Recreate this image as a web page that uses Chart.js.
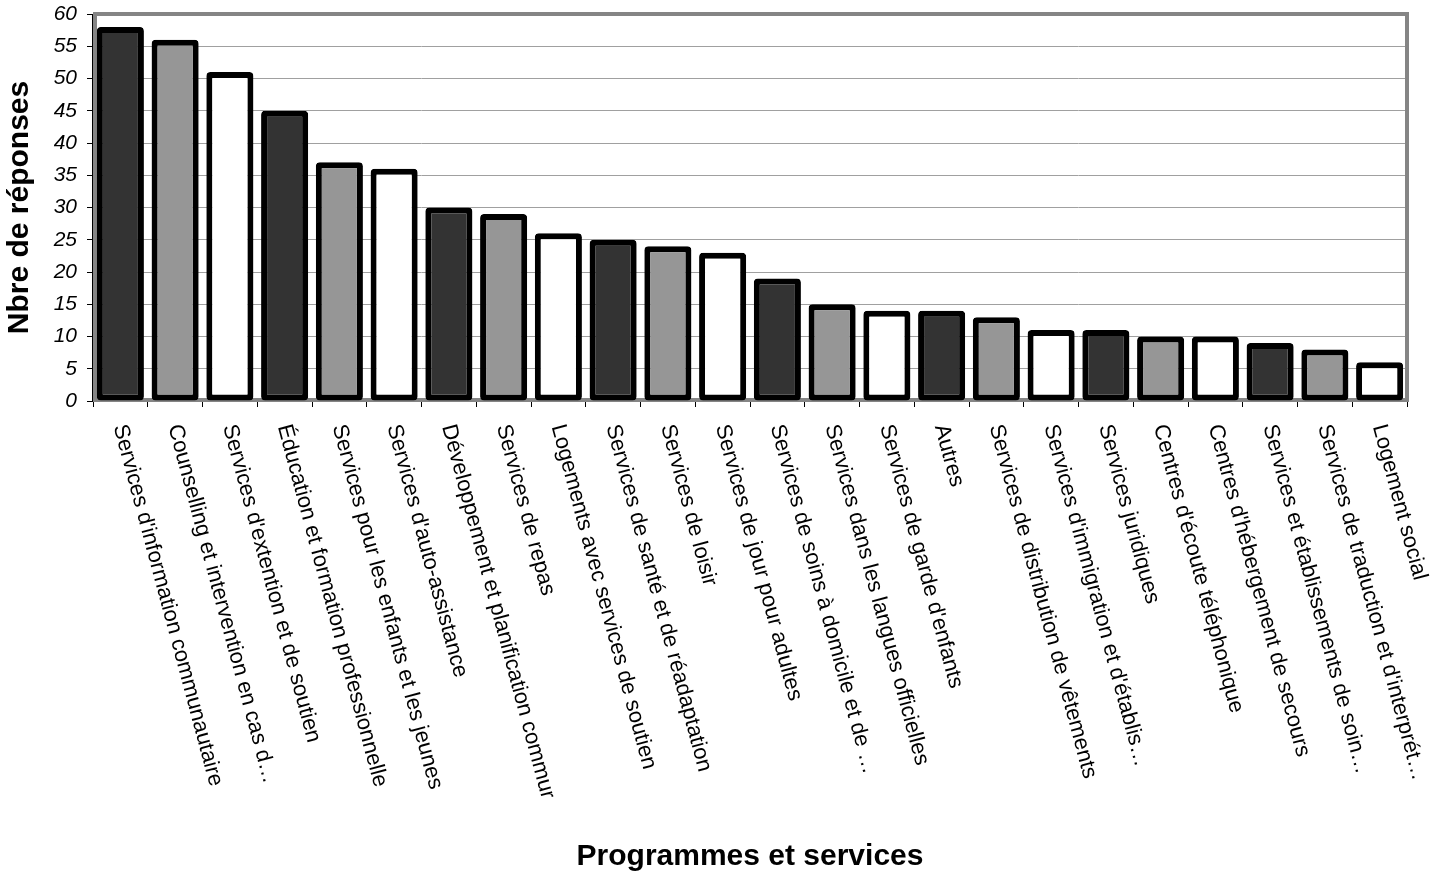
<!DOCTYPE html>
<html>
<head>
<meta charset="utf-8">
<script src="https://cdn.jsdelivr.net/npm/chart.js@4/dist/chart.umd.min.js"></script>
<style>
  html, body { margin: 0; padding: 0; background: #fff; }
  #wrap { width: 1435px; height: 875px; }
</style>
</head>
<body>
<div id="wrap"><canvas id="chart"></canvas></div>
<script>
// Categories and counts
const categories = [
    "Services d'information communautaire",
    "Counselling et intervention en cas d\u2026",
    "Services d'extention et de soutien",
    "Éducation et formation professionnelle",
    "Services pour les enfants et les jeunes",
    "Services d'auto-assistance",
    "Développement et planification commur",
    "Services de repas",
    "Logements avec services de soutien",
    "Services de santé et de réadaptation",
    "Services de loisir",
    "Services de jour pour adultes",
    "Services de soins à domicile et de \u2026",
    "Services dans les langues officielles",
    "Services de garde d'enfants",
    "Autres",
    "Services de distribution de vêtements",
    "Services d'immigration et d'établis\u2026",
    "Services juridiques",
    "Centres d'écoute téléphonique",
    "Centres d'hébergement de secours",
    "Services et établissements de soin\u2026",
    "Services de traduction et d'interprét\u2026",
    "Logement social"
];
const responses = [58, 56, 51, 45, 37, 36, 30, 29, 26, 25, 24, 23, 19, 15, 14, 14, 13, 11, 11, 10, 10, 9, 8, 6];
const yTicks = [0, 5, 10, 15, 20, 25, 30, 35, 40, 45, 50, 55, 60];

const fillCycle = ['#333333', '#969696', '#ffffff'];
const barColors = responses.map((v, i) => fillCycle[i % 3]);

const FONT = 'Liberation Sans, Arial, sans-serif';

// gray frame round the plot area, like the old office chart
const frame = {
    id: 'frame',
    beforeDatasetsDraw(chart) {
        const a = chart.chartArea;
        const ctx = chart.ctx;
        ctx.save();
        ctx.strokeStyle = '#858585';
        ctx.lineWidth = 4;
        ctx.strokeRect(a.left + 2, a.top, a.right - a.left - 2, a.bottom - a.top - 1);
        // black y axis line
        ctx.strokeStyle = '#000';
        ctx.lineWidth = 1;
        ctx.beginPath();
        ctx.moveTo(a.left - 0.5, a.top);
        ctx.lineTo(a.left - 0.5, a.bottom);
        ctx.stroke();
        ctx.restore();
    }
};

// x labels turned clockwise, read top to bottom
const slantLabels = {
    id: 'slantLabels',
    afterDraw(chart) {
        const x = chart.scales.x;
        const ctx = chart.ctx;
        const angle = 75 * Math.PI / 180;
        ctx.save();
        ctx.font = '22px ' + FONT;
        ctx.fillStyle = '#000';
        ctx.textAlign = 'left';
        ctx.textBaseline = 'middle';
        categories.forEach((label, i) => {
            ctx.save();
            ctx.translate(x.getPixelForTick(i) - 1, x.top + 24);
            ctx.rotate(angle);
            ctx.fillText(label, 0, 0);
            ctx.restore();
        });
        ctx.restore();
    }
};

new Chart(document.getElementById('chart').getContext('2d'), {
    type: 'bar',
    data: {
        labels: categories,
        datasets: [{
            data: responses,
            backgroundColor: barColors,
            borderColor: '#000',
            borderWidth: 6,
            borderRadius: 4,
            borderSkipped: false,
            barPercentage: 0.86,
            categoryPercentage: 1
        }]
    },
    options: {
        responsive: true,
        maintainAspectRatio: false,
        animation: false,
        layout: { padding: { top: 14, right: 28, bottom: 0, left: 0 } },
        plugins: {
            legend: { display: false },
            tooltip: { enabled: false }
        },
        scales: {
            x: {
                grid: {
                    offset: true,
                    drawOnChartArea: false,
                    color: '#000',
                    tickLength: 6
                },
                border: { display: false },
                ticks: { display: false },
                title: {
                    display: true,
                    text: 'Programmes et services',
                    color: '#000',
                    font: { family: FONT, size: 30, weight: 'bold' },
                    padding: { top: 0, bottom: 0 }
                },
                afterFit(scale) { scale.height = 474; }
            },
            y: {
                min: 0,
                max: 60,
                afterBuildTicks(scale) { scale.ticks = yTicks.map(v => ({ value: v })); },
                grid: {
                    color: '#a0a0a0',
                    tickColor: '#000',
                    tickLength: 6,
                    lineWidth: 1
                },
                border: { display: false },
                ticks: {
                    color: '#000',
                    padding: 10,
                    font: { family: FONT, size: 21, style: 'italic' }
                },
                title: {
                    display: true,
                    text: 'Nbre de réponses',
                    color: '#000',
                    font: { family: FONT, size: 30, weight: 'bold' },
                    padding: { top: 2, bottom: 0 }
                },
                afterFit(scale) {
                    scale.width = 93;
                    scale.paddingTop = 0;
                    scale.paddingBottom = 0;
                }
            }
        }
    },
    plugins: [frame, slantLabels]
});
</script>
</body>
</html>
